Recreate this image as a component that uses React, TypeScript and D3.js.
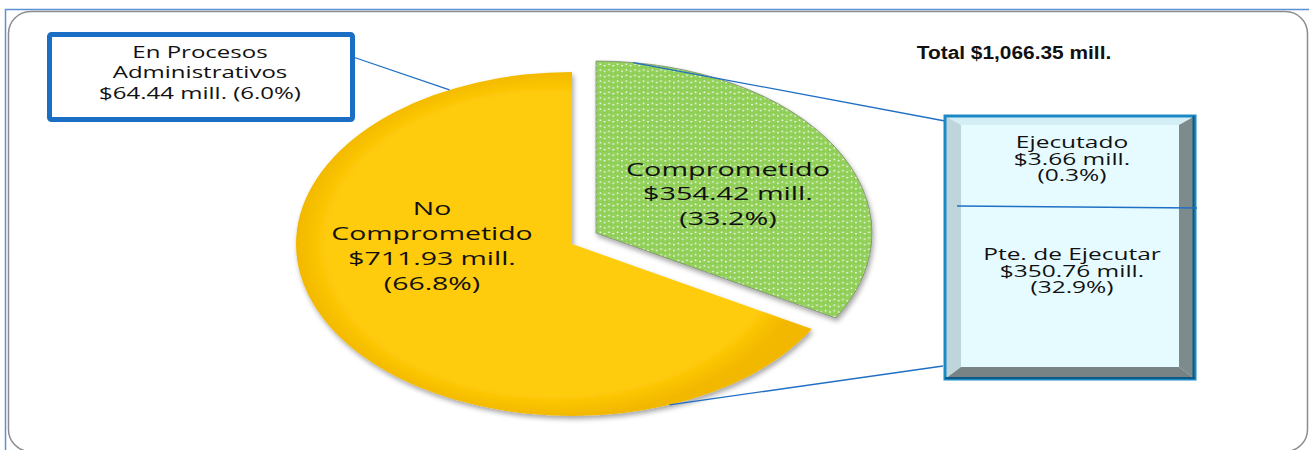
import React from 'react';
import * as d3 from 'd3';

// slices of the pie, clockwise from 12 o'clock
const sliceNames = ['Comprometido', 'No Comprometido'];
const sliceValues = [354.42, 711.93];
const slicePercents = ['33.2%', '66.8%'];

// breakdown of "Comprometido"
const breakdownNames = ['Ejecutado', 'Pte. de Ejecutar'];
const breakdownValues = [3.66, 350.76];
const breakdownPercents = ['0.3%', '32.9%'];

// callout on "No Comprometido"
const processName = ['En Procesos', 'Administrativos'];
const processValue = 64.44;
const processPercent = '6.0%';

const totalValue = 1066.35;

const W = 1309;
const H = 450;
const FONT = '"Open Sans", "Noto Sans", sans-serif';

const money = d3.format(',.2f');

// pie geometry (the chart is an ellipse: circle stretched along x)
const cx = 572;
const cy = 244;
const ry = 172;
const sx = 276 / 172;
const explode = { dx: 24, dy: -11 };

const ptOnRim = (angle: number, ox = 0, oy = 0) => ({
  x: cx + ox + Math.sin(angle) * ry * sx,
  y: cy + oy - Math.cos(angle) * ry,
});

type Block = { x: number; y: number; lines: string[]; size: number; lh: number; stretch: number; weight?: number; family?: string };

const TextBlock = ({ x, y, lines, size, lh, stretch, weight = 400, family = FONT }: Block) => (
  <text
    transform={`translate(${x},${y}) scale(${stretch},1)`}
    fontFamily={family}
    fontSize={size}
    fontWeight={weight}
    textAnchor="middle"
    fill="#111"
  >
    {lines.map((l, i) => (
      <tspan key={i} x={0} y={i * lh}>
        {l}
      </tspan>
    ))}
  </text>
);

export default function App() {
  const pie = d3
    .pie<number>()
    .sort(null)
    .startAngle(0)
    .endAngle(2 * Math.PI)
    .value((d) => d);
  const arcs = pie(sliceValues);
  const arc = d3.arc<d3.PieArcDatum<number>>().innerRadius(0).outerRadius(ry);

  const green = arcs[0];
  const yellow = arcs[1];

  // leader line anchors on the rim
  const gTop = ptOnRim(green.startAngle + 0.135, explode.dx, explode.dy);
  const yBottom = ptOnRim(yellow.startAngle + (yellow.endAngle - yellow.startAngle) * 0.165);
  const yUpper = ptOnRim(yellow.endAngle - 0.46);

  // right breakdown box
  const bx = 945;
  const by = 116;
  const bw = 250;
  const bh = 263;
  const bev = 16;

  return (
    <svg width={W} height={H} style={{ position: 'absolute', left: 0, top: 0, background: '#fff' }}>
      <defs>
        <pattern id="dots" width={5.4} height={5.6} patternUnits="userSpaceOnUse">
          <rect width={5.4} height={5.6} fill="#ffffff" />
          <circle cx={2.7} cy={1.4} r={2.25} fill="#94d35a" stroke="#78bb40" strokeWidth={0.35} />
          <circle cx={0} cy={4.2} r={2.25} fill="#94d35a" stroke="#78bb40" strokeWidth={0.35} />
          <circle cx={5.4} cy={4.2} r={2.25} fill="#94d35a" stroke="#78bb40" strokeWidth={0.35} />
        </pattern>
        <filter id="shadow" x="-10%" y="-10%" width="120%" height="125%">
          <feDropShadow dx={1.5} dy={3} stdDeviation={2.5} floodColor="#000" floodOpacity={0.35} />
        </filter>
        <radialGradient id="yellowFill" cx="50%" cy="50%" r="50%">
          <stop offset="88%" stopColor="#ffcb08" />
          <stop offset="100%" stopColor="#f2b800" />
        </radialGradient>
      </defs>

      {/* frame */}
      <line x1={5} y1={9.5} x2={W} y2={9.5} stroke="#5b8fd6" strokeWidth={1.5} />
      <line x1={5.5} y1={9} x2={5.5} y2={H} stroke="#5b8fd6" strokeWidth={1.5} />
      <rect x={8.5} y={11.5} width={1299} height={440} rx={22} fill="none" stroke="#8c8c8c" strokeWidth={1.5} />

      {/* pie */}
      <g filter="url(#shadow)">
        <g transform={`translate(${cx},${cy}) scale(${sx},1)`}>
          <path d={arc(yellow) || ''} fill="url(#yellowFill)" />
        </g>
        <g transform={`translate(${cx + explode.dx},${cy + explode.dy}) scale(${sx},1)`}>
          <path d={arc(green) || ''} fill="url(#dots)" stroke="#7d8a74" strokeWidth={0.8} vectorEffect="non-scaling-stroke" />
        </g>
      </g>

      {/* leader lines */}
      <g stroke="#1f6fc5" strokeWidth={1.3} fill="none">
        <line x1={gTop.x} y1={gTop.y} x2={bx} y2={by + 5} />
        <line x1={yBottom.x} y1={yBottom.y} x2={bx - 2} y2={by + bh - 13} />
        <line x1={353} y1={57} x2={yUpper.x} y2={yUpper.y} />
      </g>

      {/* slice labels */}
      <TextBlock
        x={cx - 140}
        y={215}
        size={18}
        lh={25}
        stretch={1.58}
        lines={['No', 'Comprometido', `$${money(sliceValues[1])} mill.`, `(${slicePercents[1]})`]}
      />
      <TextBlock
        x={cx + explode.dx + 132}
        y={176}
        size={18}
        lh={24.5}
        stretch={1.6}
        lines={[sliceNames[0], `$${money(sliceValues[0])} mill.`, `(${slicePercents[0]})`]}
      />

      {/* left callout box */}
      <rect x={49.5} y={34.5} width={303} height={85} rx={2} fill="#fff" stroke="#1a6fc4" strokeWidth={5} />
      <TextBlock
        x={200}
        y={58}
        size={15.5}
        lh={20.5}
        stretch={1.55}
        lines={[...processName, `$${money(processValue)} mill. (${processPercent})`]}
      />

      {/* total */}
      <TextBlock
        x={1014}
        y={59}
        size={18}
        lh={20}
        stretch={1.16}
        weight={700}
        family='"Liberation Sans", Arial, sans-serif'
        lines={[`Total $${money(totalValue)} mill.`]}
      />

      {/* right breakdown box */}
      <g>
        <rect x={bx} y={by} width={bw} height={bh} fill="#e6fbff" />
        <polygon points={`${bx},${by} ${bx + bw},${by} ${bx + bw - bev},${by + 9} ${bx + bev},${by + 9}`} fill="#d4eef5" />
        <polygon points={`${bx},${by} ${bx + bev},${by + 9} ${bx + bev},${by + bh - 12} ${bx},${by + bh}`} fill="#bed5dc" />
        <polygon points={`${bx + bw},${by} ${bx + bw},${by + bh} ${bx + bw - bev},${by + bh - 12} ${bx + bw - bev},${by + 9}`} fill="#7e8b8c" />
        <polygon points={`${bx},${by + bh} ${bx + bw},${by + bh} ${bx + bw - bev},${by + bh - 12} ${bx + bev},${by + bh - 12}`} fill="#778384" />
        <rect x={bx} y={by} width={bw} height={bh} fill="none" stroke="#1b8ac4" strokeWidth={3} />
        <line x1={bx + bw - 1.5} y1={by} x2={bx + bw - 1.5} y2={by + bh} stroke="#0f5a84" strokeWidth={2} />
        <line x1={bx} y1={by + bh - 1} x2={bx + bw} y2={by + bh - 1} stroke="#0f5a84" strokeWidth={2} />
      </g>
      <line x1={957} y1={206} x2={1197} y2={208} stroke="#1f6fc5" strokeWidth={1.3} />
      <TextBlock
        x={1072}
        y={148}
        size={15.5}
        lh={16.5}
        stretch={1.58}
        lines={[breakdownNames[0], `$${money(breakdownValues[0])} mill.`, `(${breakdownPercents[0]})`]}
      />
      <TextBlock
        x={1072}
        y={260}
        size={15.5}
        lh={16.5}
        stretch={1.58}
        lines={[breakdownNames[1], `$${money(breakdownValues[1])} mill.`, `(${breakdownPercents[1]})`]}
      />
    </svg>
  );
}
